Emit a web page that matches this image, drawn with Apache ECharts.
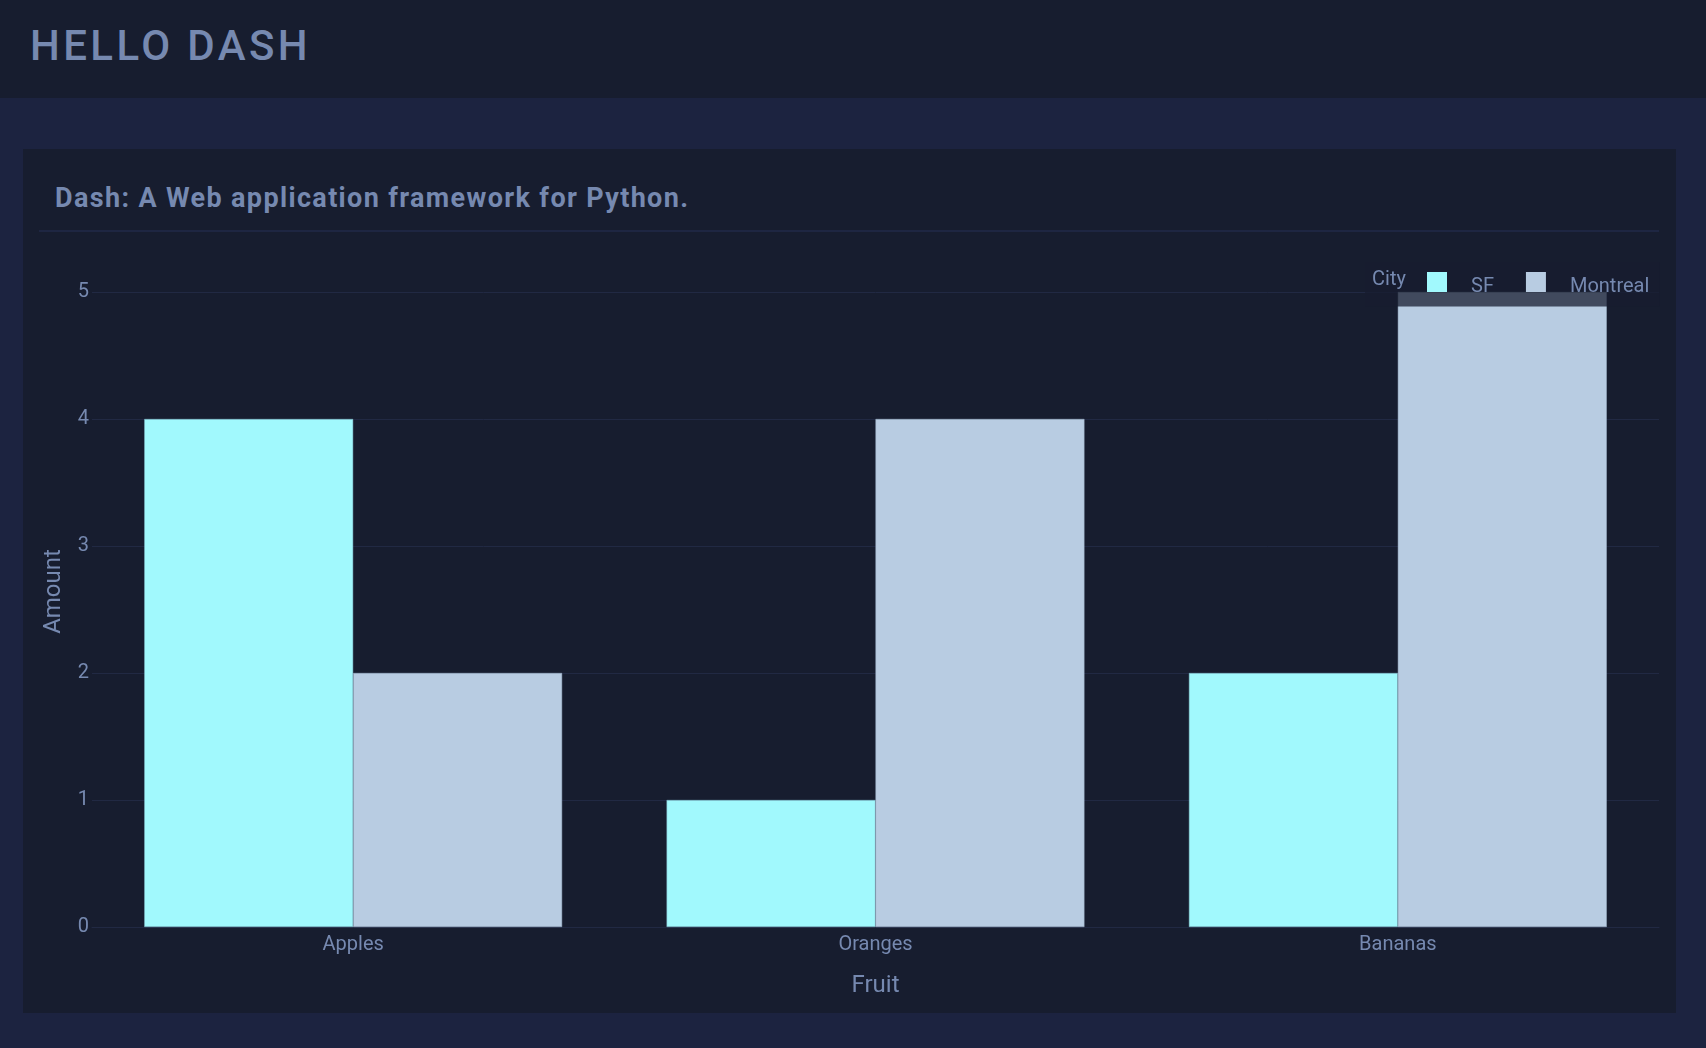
<!DOCTYPE html>
<html>
<head>
<meta charset="utf-8">
<script src="https://cdn.jsdelivr.net/npm/echarts@6/dist/echarts.min.js"></script>
<style>
  html, body { margin: 0; padding: 0; width: 1706px; height: 1048px; overflow: hidden;
    background: #1c2340; font-family: Roboto, sans-serif; }
  .header { position: absolute; left: 0; top: 0; width: 1706px; height: 98px; background: #171d2f; }
  .header h1 { position: absolute; left: 30px; top: 25px; margin: 0; font-size: 42px; line-height: 42px;
    font-weight: 500; letter-spacing: 3.4px; color: #7689b0; }
  .card { position: absolute; left: 23px; top: 149px; width: 1653px; height: 864px; background: #171d2f; }
  .card h2 { position: absolute; left: 32px; top: 36px; margin: 0; font-size: 27px; line-height: 27px;
    font-weight: 700; letter-spacing: 1.35px; color: #7689b0; }
  .card hr { position: absolute; left: 16px; right: 17px; top: 81px; margin: 0; border: 0;
    height: 2px; background: #1e2642; }
  #chart { position: absolute; left: 0; top: 86px; width: 1653px; height: 778px; }
</style>
</head>
<body>
<div class="header"><h1>HELLO DASH</h1></div>
<div class="card">
  <h2>Dash: A Web application framework for Python.</h2>
  <hr>
  <div id="chart"></div>
</div>
<script>
// 数据
var fruits = ['Apples', 'Oranges', 'Bananas'];
var sfValues = [4, 1, 2];
var montrealValues = [2, 4, 5];
var yTicks = [0, 1, 2, 3, 4, 5];

var textColor = '#7689b0';
var gridColor = '#212943';

var myChart = echarts.init(document.getElementById('chart'));

var option = {
    backgroundColor: 'transparent',
    textStyle: { fontFamily: 'Roboto' },
    graphic: [{
        type: 'text', left: 1349, top: 35, z: 10,
        style: { text: 'City', fill: textColor, font: '20px Roboto' }
    }],
    // 图例半透明背景盖在最高的柱子顶部
    legend: {
        left: 1342, top: 27,
        padding: [10, 10, 10, 62],
        backgroundColor: 'rgba(23,29,47,0.74)',
        itemWidth: 20, itemHeight: 20, itemGap: 32,
        icon: 'rect',
        itemStyle: { borderWidth: 0 },
        formatter: '{n|{name}}',
        textStyle: {
            color: textColor, fontSize: 20, padding: [0, 0, 0, 19],
            rich: { n: { color: textColor, fontSize: 20, padding: [9, 0, 0, 0] } }
        },
        data: ['SF', 'Montreal']
    },
    grid: { left: 69, right: 17, top: 57, bottom: 86 },
    xAxis: {
        type: 'category',
        data: fruits,
        name: 'Fruit',
        nameLocation: 'middle',
        nameGap: 47,
        nameTextStyle: { color: textColor, fontSize: 24 },
        axisLine: { show: true, lineStyle: { color: gridColor, width: 1 } },
        axisTick: { show: false },
        axisLabel: { color: textColor, fontSize: 20, margin: 8 }
    },
    yAxis: {
        type: 'value',
        min: yTicks[0], max: yTicks[yTicks.length - 1], interval: 1,
        name: 'Amount',
        nameLocation: 'middle',
        nameGap: 26,
        nameTextStyle: { color: textColor, fontSize: 24, padding: [0, 0, 0, 36] },
        axisLine: { show: false },
        axisTick: { show: false },
        axisLabel: { color: textColor, fontSize: 20, margin: 3 },
        splitLine: { lineStyle: { color: gridColor, width: 1 } }
    },
    series: [
        {
            name: 'SF', type: 'bar', barWidth: '40%', barGap: '0%',
            itemStyle: { color: '#a1f9fd', borderColor: '#7fb5c2', borderWidth: 0.5 },
            data: sfValues
        },
        {
            name: 'Montreal', type: 'bar', barWidth: '40%', barGap: '0%',
            itemStyle: { color: '#b8cce2', borderColor: '#9fb3c9', borderWidth: 0.5 },
            data: montrealValues
        }
    ]
};

myChart.setOption(option);
</script>
</body>
</html>
